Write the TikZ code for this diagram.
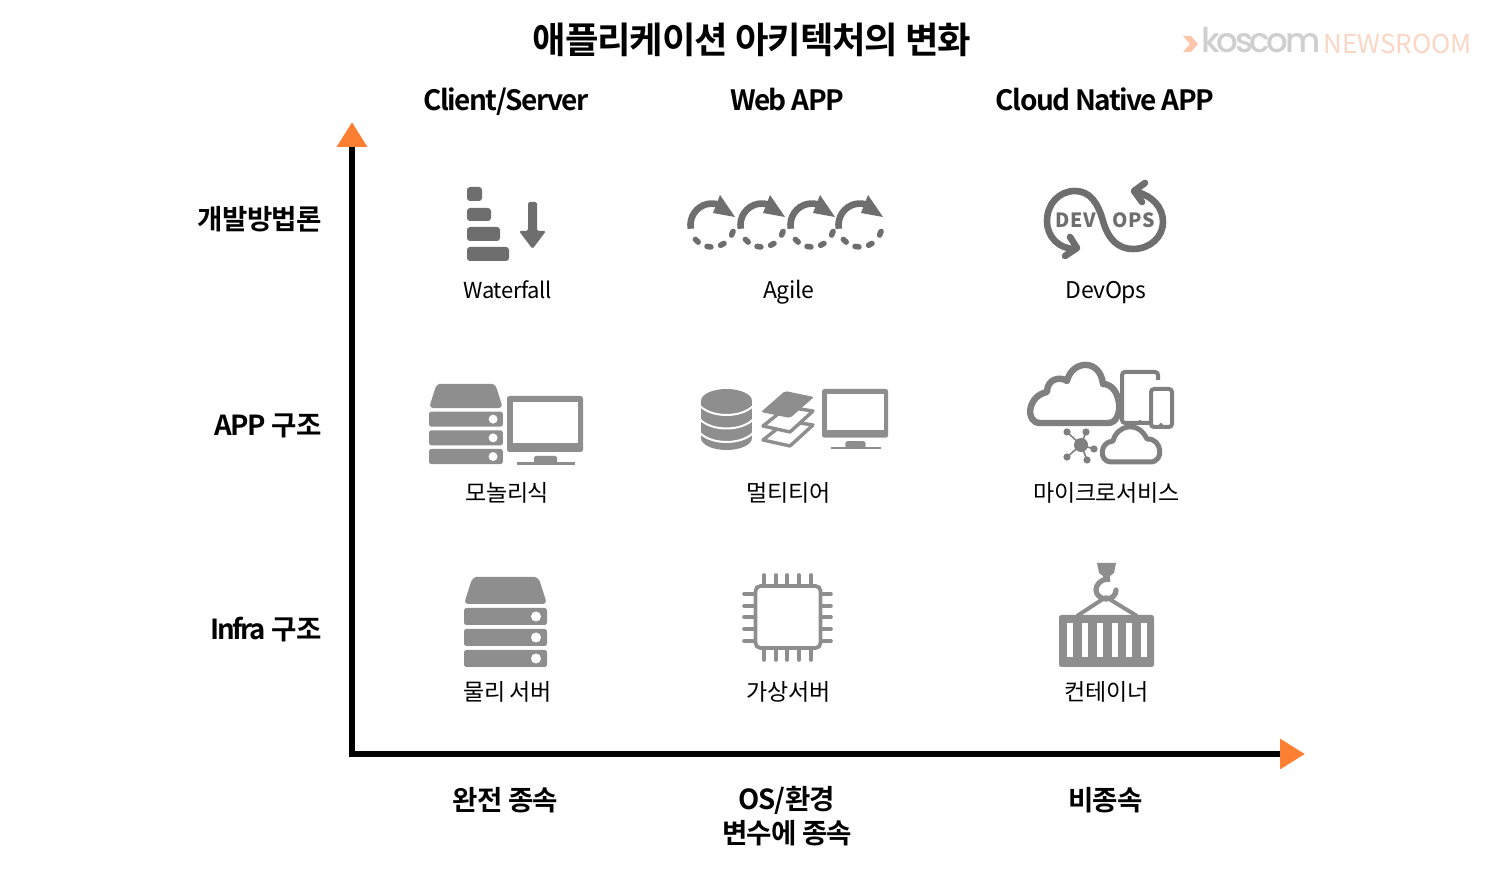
\documentclass[tikz,border=0pt]{standalone}
\usepackage{fontspec}
\setmainfont{Noto Sans CJK KR}
\newfontfamily\hdfont[LetterSpace=-3]{Noto Sans CJK KR Bold}
\newfontfamily\hdlat[LetterSpace=-5.5]{Noto Sans CJK KR Bold}
\newfontfamily\hdtight[LetterSpace=-8]{Noto Sans CJK KR Bold}
\newfontfamily\lbfont[LetterSpace=-2]{Noto Sans CJK KR}
\newfontfamily\logofont[LetterSpace=-10]{Poppins Medium}
\newfontfamily\devfont[LetterSpace=4]{Noto Sans CJK KR Black}
\usetikzlibrary{arrows.meta}
\definecolor{accent}{HTML}{FC7F32}
\definecolor{wfgray}{HTML}{6E6E6E}
\definecolor{srvgray}{HTML}{8E8E8E}
\definecolor{msgray}{HTML}{808080}
\definecolor{logogray}{HTML}{CFCFCF}
\definecolor{logopeach}{HTML}{FBD6C5}
\definecolor{logoorange}{HTML}{FBC6AC}
\tikzset{
  x=0.5pt,y=-0.5pt,
  titlelabel/.style={inner sep=0pt,font=\hdfont\fontsize{18.2}{22}\selectfont},
  headlabel/.style={inner sep=0pt,font=\hdfont\fontsize{13.8}{17}\selectfont,align=center},
  itemlabel/.style={inner sep=0pt,font=\lbfont\fontsize{11.5}{14}\selectfont},
  axisline/.style={line width=3pt,line cap=rect,-{Triangle[length=12.5pt,width=14.5pt,fill=accent,color=accent]}},
  servericon/.pic={
    \fill[srvgray,rounded corners=2pt] (0,27) -- (6,8) .. controls (8,2) and (11,0) .. (16,0) -- (67,0) .. controls (72,0) and (75,2) .. (77,8) -- (83,27) -- cycle;
    \foreach \ya in {31,52,73}{
      \fill[srvgray,rounded corners=1.2pt] (0,\ya) rectangle (83,\ya+17);
      \fill[white] (72,\ya+8.5) circle (5);
    }
  },
  monitoricon/.pic={
    \fill[srvgray,rounded corners=1.2pt] (0,0) rectangle (76,56);
    \fill[white] (6,6) rectangle (71,47);
    \fill[srvgray,rounded corners=1pt] (27,60) rectangle (50,68);
    \fill[srvgray] (10,66.5) rectangle (68,69.5);
  },
  agileicon/.pic={
    \draw[wfgray,line width=3.3pt] (170:21.5) arc[start angle=170,end angle=290,radius=21.5];
    \fill[wfgray] (8,-30) -- (23,-8) -- (1,-12) -- cycle;
    \foreach \aa in {22,62,98,134}{
      \draw[wfgray,line width=2.8pt,line cap=round] (\aa-5:22) arc[start angle=\aa-5,end angle=\aa+5,radius=22];
    }
  }
}
\begin{document}
\begin{tikzpicture}
\useasboundingbox (0,0) rectangle (1500,876);
\fill[white] (0,0) rectangle (1500,876);

% title and logo
\node[titlelabel] (title) at (752,40) {애플리케이션 아키텍처의 변화};
\fill[logoorange] (1183,36) -- (1191,36) -- (1198,44) -- (1191,52) -- (1183,52) -- (1190,44) -- cycle;
\node[inner sep=0pt,text=logogray,font=\logofont\fontsize{17}{20}\selectfont,anchor=base west] (logoa) at (1201,53) {koscom};
\node[inner sep=0pt,text=logopeach,font=\rmfamily\fontsize{13}{15}\selectfont,anchor=base west] (logob) at (1323,54) {NEWSROOM};

% column heads
\node[headlabel,font=\hdlat\fontsize{14}{17}\selectfont,anchor=base] (c1) at (506,111) {Client/Server};
\node[headlabel,font=\hdlat\fontsize{14}{17}\selectfont,anchor=base] (c2) at (787,111) {Web APP};
\node[headlabel,font=\hdlat\fontsize{14}{17}\selectfont,anchor=base] (c3) at (1105,111) {Cloud Native APP};

% row heads
\node[headlabel,anchor=east] (r1) at (322,219) {개발방법론};
\node[headlabel,anchor=east] (r2) at (322,426) {{\hdlat APP} 구조};
\node[headlabel,anchor=east] (r3) at (322,630) {{\hdtight Infra} 구조};

% axes
\coordinate (origin) at (352,754);
\coordinate (ytop) at (352,122);
\coordinate (xend) at (1305,754);
\draw[axisline] (origin) -- (ytop);
\draw[axisline] (origin) -- (xend);

% bottom labels
\node[headlabel] (b1) at (505.5,800) {완전 종속};
\node[headlabel,anchor=north] (b2) at (787,786) {{\hdlat OS/}환경\\변수에 종속};
\node[headlabel] (b3) at (1105.5,800) {비종속};

% waterfall
\begin{scope}[wfgray]
\fill[rounded corners=1.5pt] (467,187) rectangle (482,201);
\fill[rounded corners=1.5pt] (467,208) rectangle (491,221);
\fill[rounded corners=1.5pt] (467,227) rectangle (500,241);
\fill[rounded corners=1.5pt] (467,247) rectangle (509,261);
\fill[rounded corners=.8pt] (528,202) -- (537,202) -- (537,231) -- (546,231) -- (532.5,249) -- (519,231) -- (528,231) -- cycle;
\end{scope}
\node[itemlabel,font=\lbfont\fontsize{11}{14}\selectfont,anchor=base] (n11) at (507.5,299) {Waterfall};

% agile
\pic at (712,225) {agileicon};
\pic at (762,225) {agileicon};
\pic at (812,225) {agileicon};
\pic at (860,225) {agileicon};
\node[itemlabel,anchor=base] (n12) at (788.5,299) {Agile};

% devops
\draw[wfgray,line width=3.3pt,line cap=round,line join=round,fill=none]
  (1075,249) .. controls (1059,249) and (1047,237) .. (1047,221)
  .. controls (1047,204) and (1059,191) .. (1075,191)
  .. controls (1090,191) and (1098,203) .. (1103,221)
  .. controls (1108,239) and (1118,249) .. (1133,249)
  .. controls (1150,249) and (1163,237) .. (1163,222)
  .. controls (1163,207) and (1152,196) .. (1137,192);
\draw[wfgray,line width=3.3pt,line cap=round,line join=round] (1070,237) -- (1077,248) -- (1065,256);
\draw[wfgray,line width=3.3pt,line cap=round,line join=round] (1145,183) -- (1134,191) -- (1142,202);
\node[inner sep=0pt,text=wfgray,font=\devfont\fontsize{9.8}{11}\selectfont] (dev) at (1076,220) {DEV};
\node[inner sep=0pt,text=wfgray,font=\devfont\fontsize{9.8}{11}\selectfont] (ops) at (1134,220) {OPS};
\node[itemlabel,anchor=base] (n13) at (1106,299) {DevOps};

% monolith
\pic[scale=.89] at (429,384) {servericon};
\pic at (507,396) {monitoricon};
\node[itemlabel] (n21) at (507.5,493) {모놀리식};

% multitier
\begin{scope}[srvgray]
\fill (701,401) rectangle (752,439);
\fill (726.5,401) ellipse (25.5 and 12);
\fill (726.5,438) ellipse (25.5 and 12);
\end{scope}
\foreach \yb in {406,419.5,433}{
  \draw[white,line width=1pt] (700,\yb) .. controls (712,\yb+12) and (741,\yb+12) .. (753,\yb);
}
\draw[srvgray,line width=1.7pt,line join=round,fill=white] (787,421) -- (813,425) -- (790,446) -- (763,440) -- cycle;
\draw[srvgray,line width=1.7pt,line join=round,fill=white] (787,407) -- (813,411) -- (790,432) -- (763,426) -- cycle;
\fill[srvgray,rounded corners=1pt] (785,391) -- (814,397) -- (790,418) -- (761,412) -- cycle;
\pic[scale=.87] at (822,389) {monitoricon};
\node[itemlabel] (n22) at (788.5,493) {멀티티어};

% microservices
\begin{scope}[msgray]
\draw[line width=2pt,rounded corners=1.5pt,fill=white] (1122,372) rectangle (1158,423);
\fill[white] (1149,380) rectangle (1162,392);
\draw[line width=2pt,rounded corners=1.5pt,fill=white] (1151,389) rectangle (1172,427);
\fill (1140,372) circle (1.5);
\fill (1161,389) circle (1.2);
\fill (1161,425) circle (2);
\draw[line width=3.2pt,line join=round,fill=white]
  (1040,423) .. controls (1025,423) and (1027,396) .. (1047,392)
  .. controls (1047,379) and (1060,376) .. (1067,381)
  .. controls (1072,360) and (1100,358) .. (1103,384)
  .. controls (1122,384) and (1125,423) .. (1108,423) -- cycle;
\foreach \px/\py in {1067/432,1086/432,1094/449,1067/457,1087/460}{
  \draw[line width=.8pt] (1081,445) -- (\px,\py);
  \fill (\px,\py) circle (3.6);
}
\fill (1081,445) circle (7);
\draw[line width=2.5pt,line join=round,fill=white]
  (1111,462) .. controls (1099,462) and (1099,442) .. (1113,441)
  .. controls (1117,425) and (1138,420) .. (1147,439)
  .. controls (1162,438) and (1165,462) .. (1150,462) -- cycle;
\fill (1140,422) circle (2);
\end{scope}
\node[itemlabel] (n23) at (1106.5,493) {마이크로서비스};

% physical server
\pic at (464,577) {servericon};
\node[itemlabel] (n31) at (507.5,692) {물리 서버};

% cpu
\draw[srvgray,line width=1.9pt,rounded corners=2.5pt] (755.5,586) rectangle (820.5,648);
\foreach \xp in {764,776,787,799,811}{
  \draw[srvgray,line width=1.8pt,line cap=round] (\xp,575) -- (\xp,585);
  \draw[srvgray,line width=1.8pt,line cap=round] (\xp,650) -- (\xp,660);
}
\foreach \yp in {594,606,617,629,641}{
  \draw[srvgray,line width=1.8pt,line cap=round] (744,\yp) -- (754,\yp);
  \draw[srvgray,line width=1.8pt,line cap=round] (822,\yp) -- (831,\yp);
}
\node[itemlabel] (n32) at (788.5,692) {가상서버};

% container
\begin{scope}[srvgray]
\fill[rounded corners=1.2pt] (1059,615) rectangle (1154,667);
\foreach \xs/\xt in {1067/1072.5,1082/1087.5,1097/1102.5,1112/1117.5,1126/1132,1141/1147}{
  \fill[white] (\xs,623) rectangle (\xt,657);
}
\fill (1097,563) -- (1116,563) -- (1114,573) -- (1110,576) -- (1110,582) -- (1103,582) -- (1103,576) -- (1099,573) -- cycle;
\draw[line width=2.6pt,line cap=round] (1107,579) .. controls (1100,580) and (1096,585) .. (1096,590)
  .. controls (1096,595) and (1101,599) .. (1106,599) .. controls (1112,599) and (1116,595) .. (1116,590);
\draw[line width=2pt,line join=round] (1077,616) -- (1106,597) -- (1137,616);
\end{scope}
\node[itemlabel] (n33) at (1106.5,692) {컨테이너};
\end{tikzpicture}
\end{document}
